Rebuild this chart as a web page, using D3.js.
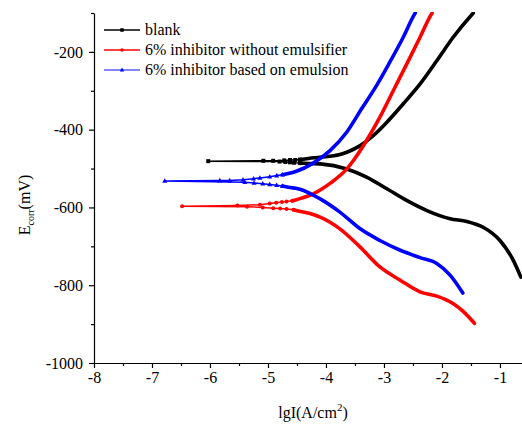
<!DOCTYPE html>
<html><head><meta charset="utf-8">
<script src="https://cdn.jsdelivr.net/npm/d3@7"></script>
<style>body{margin:0;background:#fff}svg{display:block}text{font-family:"Liberation Serif","Times New Roman",serif}</style>
</head><body>
<svg id="c" width="522" height="428"></svg>
<script>
// ---- data: [lgI (A/cm2), E (mV)] ----
const seriesNames = ["blank", "6% inhibitor without emulsifier", "6% inhibitor based on emulsion"];
const seriesColors = ["#000000", "#ff0000", "#0000ff"];
const legendLineColors = ["#000000", "#ff0000", "#5c5cff"];
const seriesMarkers = ["square", "circle", "triangle"];

// blank
const blankCath = [[-4.45,-486],[-4.3,-487],[-4.10,-488],[-3.64,-501],[-3.30,-522],[-2.95,-552],[-2.61,-582],[-2.26,-608],[-1.86,-629],[-1.57,-636],[-1.29,-651],[-1.00,-685],[-0.77,-736],[-0.64,-779]];
const blankFlat = [[-4.45,-486],[-4.55,-485],[-4.62,-484],[-4.70,-483],[-4.80,-482],[-6.03,-481],[-5.08,-480],[-4.91,-480],[-4.72,-479],[-4.62,-478],[-4.53,-478],[-4.45,-477]];
const blankAnod = [[-4.45,-477],[-4.3,-474],[-4.10,-471],[-3.76,-464],[-3.64,-458],[-3.41,-441],[-3.18,-415],[-2.95,-381],[-2.67,-334],[-2.38,-283],[-2.09,-223],[-1.81,-163],[-1.49,-105],[-1.46,-100]];

// 6% inhibitor without emulsifier
const redCath = [[-4.56,-606],[-4.51,-608],[-4.22,-618],[-4.10,-625],[-3.93,-638],[-3.76,-655],[-3.41,-702],[-3.07,-753],[-2.72,-787],[-2.38,-817],[-2.09,-828],[-1.81,-847],[-1.63,-868],[-1.44,-898]];
const redFlat = [[-4.56,-606],[-4.68,-604],[-4.79,-603],[-4.91,-602],[-5.09,-600],[-5.36,-598],[-6.48,-597],[-5.53,-595],[-5.14,-593],[-4.97,-590],[-4.86,-588],[-4.76,-586],[-4.68,-585],[-4.58,-583]];
const redAnod = [[-4.58,-583],[-4.51,-580],[-4.22,-565],[-3.93,-538],[-3.64,-501],[-3.53,-480],[-3.30,-428],[-3.07,-368],[-2.84,-300],[-2.58,-223],[-2.38,-163],[-2.19,-105],[-2.17,-100]];

// 6% inhibitor based on emulsion
const blueCath = [[-4.75,-545],[-4.65,-548],[-4.45,-553],[-4.10,-578],[-3.76,-612],[-3.41,-655],[-3.07,-685],[-2.72,-710],[-2.38,-729],[-2.09,-744],[-1.86,-774],[-1.64,-820]];
const blueFlat = [[-4.75,-545],[-4.85,-543],[-4.97,-541],[-5.09,-539],[-5.24,-537],[-5.40,-535],[-6.78,-532],[-5.83,-531],[-5.66,-531],[-5.43,-529],[-5.25,-526],[-5.14,-524],[-4.97,-521],[-4.85,-518],[-4.75,-516]];
const blueAnod = [[-4.75,-516],[-4.65,-513],[-4.51,-507],[-4.22,-486],[-3.93,-454],[-3.64,-406],[-3.38,-345],[-3.15,-292],[-2.92,-232],[-2.67,-163],[-2.48,-105],[-2.46,-100]];

const xTicks = [-8,-7,-6,-5,-4,-3,-2,-1];
const xMinor = [-7.5,-6.5,-5.5,-4.5,-3.5,-2.5,-1.5];
const yTicks = [-1000,-800,-600,-400,-200];
const yMinor = [-900,-700,-500,-300,-100];

const series = [
  {cath: blankCath, flat: blankFlat, anod: blankAnod},
  {cath: redCath, flat: redFlat, anod: redAnod},
  {cath: blueCath, flat: blueFlat, anod: blueAnod}
];

// ---- layout ----
const svg = d3.select("#c");
const m = {l: 94, t: 13, r: 0, b: 65};
const W = 522 - m.l - m.r, H = 428 - m.t - m.b;
const x = d3.scaleLinear().domain([-8, -0.62]).range([0, W]);
const y = d3.scaleLinear().domain([-1000, -100]).range([H, 0]);
const g = svg.append("g").attr("transform", `translate(${m.l},${m.t})`);

svg.append("defs").append("clipPath").attr("id","clip")
  .append("rect").attr("x",0).attr("y",-1).attr("width",W+1).attr("height",H+1);

// axes
const fmt = d => String(d).replace("\u2212","-");
g.append("g").attr("transform",`translate(0,${H})`)
  .call(d3.axisBottom(x).tickValues(xTicks).tickFormat(fmt).tickSize(5).tickSizeOuter(0).tickPadding(4));
g.append("g").attr("transform",`translate(0,${H})`)
  .call(d3.axisBottom(x).tickValues(xMinor).tickFormat("").tickSize(3).tickSizeOuter(0))
  .select(".domain").remove();
g.append("g")
  .call(d3.axisLeft(y).tickValues(yTicks).tickFormat(fmt).tickSize(5).tickSizeOuter(0).tickPadding(6));
g.append("g")
  .call(d3.axisLeft(y).tickValues(yMinor).tickFormat("").tickSize(3).tickSizeOuter(0))
  .select(".domain").remove();
g.selectAll(".tick text").attr("font-size",16).attr("font-family","Liberation Serif").attr("fill","#000");
g.selectAll(".tick line, .domain").attr("stroke","#000").attr("stroke-width",1.2);

// curves
const line = d3.line().x(d => x(d[0])).y(d => y(d[1]));
const smooth = d3.line().x(d => x(d[0])).y(d => y(d[1])).curve(d3.curveMonotoneX);
const plot = g.append("g").attr("clip-path","url(#clip)");

function marker(sel, type, color, size) {
  if (type === "square") {
    sel.append("rect").attr("x",-size/2).attr("y",-size/2).attr("width",size).attr("height",size).attr("fill",color);
  } else if (type === "circle") {
    sel.append("circle").attr("r",size/2).attr("fill",color);
  } else {
    const s = size*1.15;
    sel.append("path").attr("d",`M0,${-s*0.6}L${s*0.55},${s*0.4}L${-s*0.55},${s*0.4}Z`).attr("fill",color);
  }
}

series.forEach((s, i) => {
  const c = seriesColors[i];
  plot.append("path").attr("d", line(s.flat)).attr("fill","none").attr("stroke",c).attr("stroke-width",1.5);
  plot.append("path").attr("d", smooth(s.cath)).attr("fill","none").attr("stroke",c).attr("stroke-width",3.6).attr("stroke-linecap","round");
  plot.append("path").attr("d", smooth(s.anod)).attr("fill","none").attr("stroke",c).attr("stroke-width",3.6).attr("stroke-linecap","round");
  s.flat.forEach(d => {
    const mg = plot.append("g").attr("transform",`translate(${x(d[0])},${y(d[1])})`);
    marker(mg, seriesMarkers[i], c, 4);
  });
});

// legend
const lg = svg.append("g");
seriesNames.forEach((n, i) => {
  const yy = 30 + i*20;
  lg.append("line").attr("x1",104).attr("x2",140).attr("y1",yy).attr("y2",yy)
    .attr("stroke",legendLineColors[i]).attr("stroke-width",1.5);
  const mg = lg.append("g").attr("transform",`translate(122,${yy})`);
  marker(mg, seriesMarkers[i], seriesColors[i], 3.5);
  lg.append("text").attr("x",145).attr("y",yy+5).attr("font-size",16).text(n);
});

// axis titles
const xt = svg.append("text").attr("x", 313).attr("y", 418).attr("text-anchor","middle").attr("font-size",16);
xt.append("tspan").text("lgI(A/cm");
xt.append("tspan").attr("font-size",11).attr("dy",-7).text("2");
xt.append("tspan").attr("dy",7).text(")");

const yt = svg.append("text").attr("transform","translate(30,205) rotate(-90)").attr("text-anchor","middle").attr("font-size",16);
yt.append("tspan").text("E");
yt.append("tspan").attr("font-size",10).attr("dy",4).text("corr");
yt.append("tspan").attr("dy",-4).text("(mV)");
</script>
</body></html>
